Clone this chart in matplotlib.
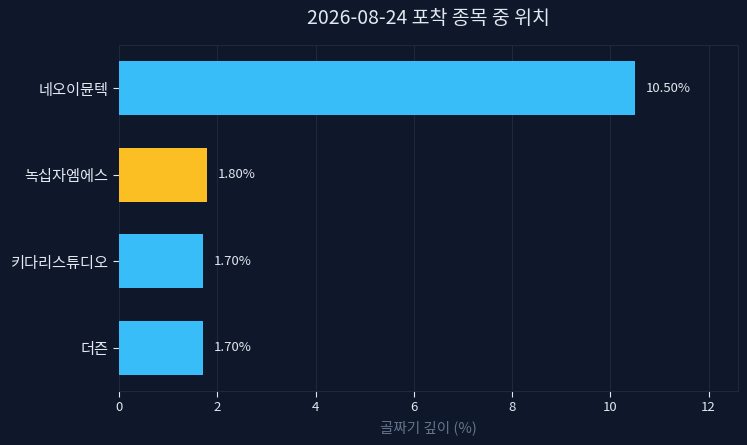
import matplotlib
matplotlib.use("Agg")
import matplotlib.pyplot as plt

plt.rcParams['font.family'] = ['Noto Sans CJK KR', 'DejaVu Sans']

categories = ["네오이뮨텍", "녹십자엠에스", "키다리스튜디오", "더즌"]
values = [10.50, 1.80, 1.70, 1.70]
colors = ["#38bdf8", "#fbbf24", "#38bdf8", "#38bdf8"]
title = "2026-08-24 포착 종목 중 위치"
xlabel = "골짜기 깊이 (%)"

bg = "#0f172a"
fig = plt.figure(figsize=(7.47, 4.45), dpi=100, facecolor=bg)
ax = fig.add_axes([119/747, 1-391/445, (738-119)/747, (391-45)/445])
ax.set_facecolor(bg)

y = list(range(len(categories)))[::-1]
ax.barh(y, values, height=0.62, color=colors, zorder=3)
for yi, v in zip(y, values):
    ax.text(v + 0.22, yi, f"{v:.2f}%", va="center", ha="left", color="#e2e8f0", fontsize=9.5)

ax.set_yticks(y)
ax.set_yticklabels(categories)
ax.set_ylim(-0.5, 3.5)
ax.set_xlim(0, 12.6)
ax.set_xticks([0, 2, 4, 6, 8, 10, 12])
ax.grid(axis="x", color="#1e293b", linewidth=0.8, zorder=0)
ax.grid(axis="y", visible=False)
for s in ax.spines.values():
    s.set_color("#1e293b")
ax.tick_params(colors="#e2e8f0", labelsize=9.5)
ax.tick_params(axis="y", labelsize=11)
ax.tick_params(axis="both", color="#e2e8f0", length=4)
ax.set_xlabel(xlabel, color="#64748b", fontsize=10.5, labelpad=4)
fig.text((119+738)/2/747, 1-18/445, title, ha="center", va="center", color="#e2e8f0", fontsize=14)

fig.savefig("out.png", dpi=100, facecolor=bg)
